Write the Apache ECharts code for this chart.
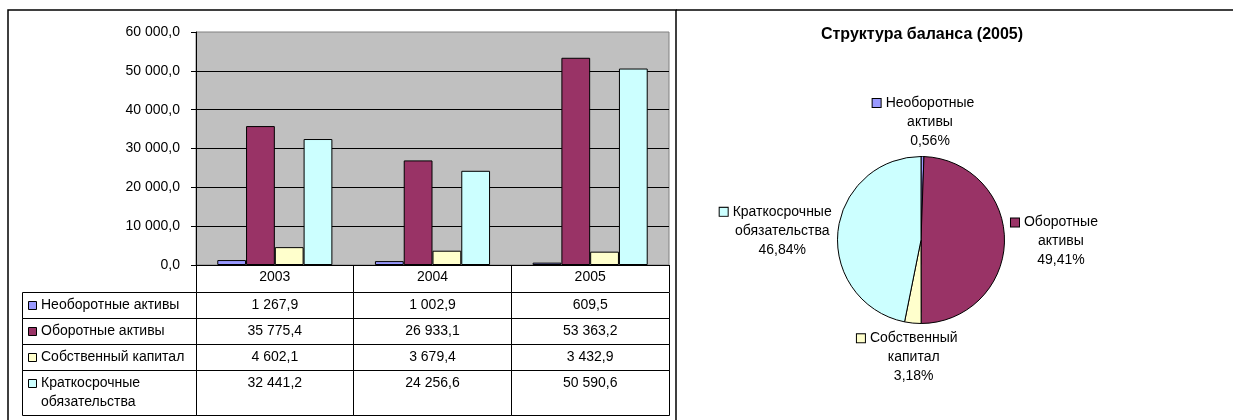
<!DOCTYPE html>
<html>
<head>
<meta charset="utf-8">
<title>Баланс 2003–2005</title>
<script src="https://cdn.jsdelivr.net/npm/echarts@6/dist/echarts.min.js"></script>
<style>
  html, body { margin: 0; padding: 0; background: #ffffff; }
  #chart { width: 1233px; height: 420px; }
</style>
</head>
<body>
<div id="chart"></div>
<script>
// ---- data ----
const years = ['2003', '2004', '2005'];
const itemNames = ['Необоротные активы', 'Оборотные активы', 'Собственный капитал', 'Краткосрочные обязательства'];
const nonCurrentAssets = [1267.9, 1002.9, 609.5];
const currentAssets = [35775.4, 26933.1, 53363.2];
const equityCapital = [4602.1, 3679.4, 3432.9];
const shortTermLiabilities = [32441.2, 24256.6, 50590.6];
const valueAxisMax = 60000;
const valueAxisStep = 10000;
const pieYearIndex = 2;
const pieTitle = 'Структура баланса (2005)';

const seriesValues = [nonCurrentAssets, currentAssets, equityCapital, shortTermLiabilities];
const itemColors = ['#9999ff', '#993366', '#ffffcc', '#ccffff'];

// ---- styling / layout ----
const FONT_FAMILY = '"Liberation Sans", Arial, sans-serif';
const FONT_SIZE = 14;
const FONT = FONT_SIZE + 'px ' + FONT_FAMILY;
const PLOT_LEFT = 196, PLOT_WIDTH = 473, PLOT_TOP = 32, PLOT_HEIGHT = 233;
const TABLE_TOP = 292;
const NAME_COL_W = 174;
const ROW_PAD = 7, LINE_H = 19;
const PIE_CENTER = [921, 240], PIE_R = 83.5, LABEL_GAP = 6;

// number format: "35 775,4"
function fmt(v) {
  const parts = Math.abs(v).toFixed(1).split('.');
  return (v < 0 ? '-' : '') + parts[0].replace(/\B(?=(\d{3})+(?!\d))/g, ' ') + ',' + parts[1];
}

// word wrapping against the real font metrics
const measureCtx = document.createElement('canvas').getContext('2d');
function wrapWords(text, font, maxWidth) {
  measureCtx.font = font;
  const words = text.split(' ');
  const lines = [];
  let line = '';
  words.forEach(w => {
    const test = line ? line + ' ' + w : w;
    if (line && measureCtx.measureText(test).width > maxWidth) {
      lines.push(line);
      line = w;
    } else {
      line = test;
    }
  });
  if (line) lines.push(line);
  return lines;
}

const crisp = v => Math.round(v - 0.5) + 0.5;

// ---- data table rows (heights follow the wrapped row titles) ----
const nameLines = itemNames.map(n => wrapWords(n, FONT, NAME_COL_W - 19));
const rowTops = [];
const rowBottoms = [];
let acc = 0;
nameLines.forEach(lines => {
  rowTops.push(acc);
  acc += ROW_PAD + LINE_H * lines.length;
  rowBottoms.push(acc);
});
const tableHeight = acc;

// ---- pie ----
const pieValues = seriesValues.map(arr => arr[pieYearIndex]);
const pieTotal = pieValues.reduce((a, b) => a + b, 0);

const pieRich = {
  g: { width: 5, align: 'left' },
  s: { width: 13, align: 'left' },
  t: { align: 'center', fontSize: FONT_SIZE, fontFamily: FONT_FAMILY, lineHeight: LINE_H, color: '#000' }
};
itemColors.forEach((c, i) => {
  pieRich['k' + i] = { width: 8, height: 8, backgroundColor: c, borderColor: '#000', borderWidth: 1, align: 'left' };
});

function pieLabel(p) {
  const lines = wrapWords(p.name, FONT, 105);
  const pct = (p.value / pieTotal * 100).toFixed(2).replace('.', ',') + '%';
  const out = ['{k' + p.dataIndex + '|}{g|}{t|' + lines[0] + '}'];
  lines.slice(1).forEach(l => out.push('{s|}{t|' + l + '}'));
  out.push('{s|}{t|' + pct + '}');
  return out.join('\n');
}

// labels sit just outside the rim, pushed out along the slice bisector
function pieLabelLayout(p) {
  const i = p.dataIndex;
  const before = pieValues.slice(0, i).reduce((a, b) => a + b, 0);
  const theta = (before + pieValues[i] / 2) / pieTotal * 2 * Math.PI;
  const dx = Math.sin(theta), dy = -Math.cos(theta);
  const d = PIE_R + LABEL_GAP;
  return {
    x: PIE_CENTER[0] + dx * (d + p.labelRect.width / 2),
    y: PIE_CENTER[1] + dy * d + dy * Math.abs(dy) * p.labelRect.height / 2,
    align: 'center',
    verticalAlign: 'middle'
  };
}

// ---- table renderer ----
function renderTableRow(params, api) {
  const r = params.dataIndex;
  const yTop = crisp(api.coord([0, api.value(1)])[1]);
  const yBot = crisp(api.coord([0, api.value(2)])[1]);
  const band = api.size([1, 0])[0];
  const gx = params.coordSys.x;
  const border = { fill: null, stroke: '#000', lineWidth: 1 };
  const textTop = yTop + ROW_PAD / 2;
  const nameX = crisp(gx - NAME_COL_W);
  const nameRight = crisp(gx);
  const children = [
    { type: 'rect', shape: { x: nameX, y: yTop, width: nameRight - nameX, height: yBot - yTop }, style: border },
    { type: 'rect', shape: { x: nameX + 6, y: crisp(textTop + LINE_H / 2 - 4), width: 8, height: 8 },
      style: { fill: itemColors[r], stroke: '#000', lineWidth: 1 } },
    { type: 'text', style: { text: nameLines[r].join('\n'), x: nameX + 18.5, y: textTop, font: FONT,
      fill: '#000', lineHeight: LINE_H, align: 'left', verticalAlign: 'top' } }
  ];
  years.forEach((_, c) => {
    const cx = api.coord([c, 0])[0];
    const left = crisp(cx - band / 2);
    const right = crisp(cx + band / 2);
    children.push({ type: 'rect', shape: { x: left, y: yTop, width: right - left, height: yBot - yTop }, style: border });
    children.push({ type: 'text', style: { text: fmt(seriesValues[r][c]), x: cx, y: textTop, font: FONT,
      fill: '#000', lineHeight: LINE_H, align: 'center', verticalAlign: 'top' } });
  });
  return { type: 'group', children };
}

const chart = echarts.init(document.getElementById('chart'), null, { renderer: 'canvas' });

const option = {
  animation: false,
  backgroundColor: '#ffffff',
  textStyle: { fontFamily: FONT_FAMILY },
  graphic: [
    { type: 'rect', silent: true, z: 0, shape: { x: 8, y: 10, width: 668, height: 430 },
      style: { fill: null, stroke: '#000', lineWidth: 1.5 } },
    { type: 'line', silent: true, z: 0, shape: { x1: 676, y1: 10, x2: 1233, y2: 10 },
      style: { stroke: '#000', lineWidth: 1.5 } },
    { type: 'text', silent: true, z: 10, x: PIE_CENTER[0] + 1, y: 35,
      style: { text: pieTitle, font: 'bold 16px ' + FONT_FAMILY, fill: '#000', align: 'center', verticalAlign: 'middle' } }
  ],
  grid: [
    { left: PLOT_LEFT, top: PLOT_TOP, width: PLOT_WIDTH, height: PLOT_HEIGHT, show: true,
      backgroundColor: '#c0c0c0', borderColor: '#808080', borderWidth: 1, containLabel: false, outerBoundsMode: 'none' },
    { left: PLOT_LEFT, top: TABLE_TOP, width: PLOT_WIDTH, height: tableHeight, show: false,
      containLabel: false, outerBoundsMode: 'none' }
  ],
  xAxis: [
    {
      type: 'category', gridIndex: 0, data: years, boundaryGap: true,
      axisLine: { show: true, lineStyle: { color: '#000', width: 1 } },
      axisTick: { show: true, interval: 0, length: 27, inside: false, alignWithLabel: false, lineStyle: { color: '#000', width: 1 } },
      axisLabel: { show: true, interval: 0, margin: 5, color: '#000', fontSize: FONT_SIZE, fontFamily: FONT_FAMILY },
      splitLine: { show: false }
    },
    { type: 'category', gridIndex: 1, data: years, boundaryGap: true, show: false }
  ],
  yAxis: [
    {
      type: 'value', gridIndex: 0, min: 0, max: valueAxisMax, interval: valueAxisStep,
      axisLine: { show: true, lineStyle: { color: '#000', width: 1 } },
      axisTick: { show: true, length: 5, inside: false, lineStyle: { color: '#000', width: 1 } },
      axisLabel: { show: true, margin: 16, color: '#000', fontSize: FONT_SIZE, fontFamily: FONT_FAMILY, formatter: v => fmt(v) },
      splitLine: { show: true, showMaxLine: false, showMinLine: false, lineStyle: { color: '#000', width: 1 } }
    },
    { type: 'value', gridIndex: 1, min: 0, max: tableHeight, inverse: true, show: false, splitLine: { show: false } }
  ],
  series: [
    ...itemNames.map((name, i) => ({
      type: 'bar', name, xAxisIndex: 0, yAxisIndex: 0,
      data: seriesValues[i],
      barGap: '0%', barCategoryGap: '27%',
      itemStyle: { color: itemColors[i], borderColor: '#000', borderWidth: 1 },
      emphasis: { disabled: true }, silent: true
    })),
    {
      type: 'custom', xAxisIndex: 1, yAxisIndex: 1, clip: false, silent: true,
      data: itemNames.map((_, r) => [r, rowTops[r], rowBottoms[r]]),
      encode: { x: 0, y: [1, 2] },
      renderItem: renderTableRow
    },
    {
      type: 'pie', center: PIE_CENTER, radius: PIE_R, startAngle: 90, clockwise: true,
      avoidLabelOverlap: false, silent: true,
      data: itemNames.map((n, i) => ({ name: n, value: pieValues[i], itemStyle: { color: itemColors[i] } })),
      itemStyle: { borderColor: '#000', borderWidth: 1 },
      label: { show: true, position: 'outside', formatter: pieLabel, rich: pieRich,
        fontSize: FONT_SIZE, fontFamily: FONT_FAMILY, color: '#000', lineHeight: LINE_H },
      labelLine: { show: false },
      labelLayout: pieLabelLayout,
      emphasis: { disabled: true }
    }
  ]
};

chart.setOption(option);
</script>
</body>
</html>
